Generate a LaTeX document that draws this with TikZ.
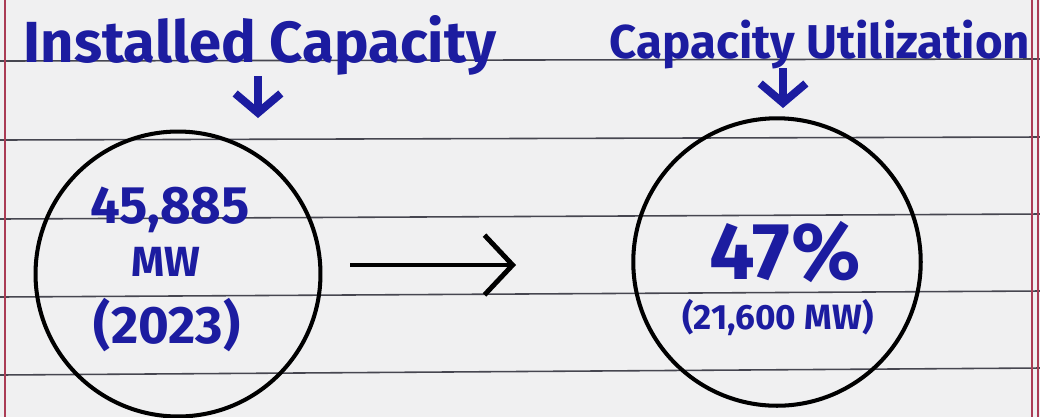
\documentclass[tikz,border=0pt]{standalone}
\usepackage{fontspec}
\setmainfont{Fira Sans}
\usepackage{tikz}
\usetikzlibrary{arrows.meta, positioning, calc}
\definecolor{paper}{RGB}{240,240,241}
\definecolor{ruling}{RGB}{70,70,80}
\definecolor{margin}{RGB}{170,60,85}
\definecolor{ink}{RGB}{28,28,160}

\begin{document}
\begin{tikzpicture}[x=0.02cm, y=-0.02cm,
    heading/.style={text=ink, font=\bfseries\fontsize{33pt}{33pt}\selectfont, inner sep=0pt, anchor=base},
    value/.style={text=ink, font=\bfseries\fontsize{30pt}{30pt}\selectfont, inner sep=0pt},
    bubble/.style={circle, draw=black, line width=2.3pt, minimum size=5.7cm, inner sep=0pt},
    arrow/.style={-{Straight Barb[length=16pt, width=34pt, line width=2.8pt]}, line width=2.8pt},
    downarrow/.style={-{Straight Barb[length=11pt, width=26pt, line width=4.5pt]}, draw=ink, line width=4.5pt}
  ]

    % Paper
    \fill[paper] (0,0) rectangle (1040,417);
    \useasboundingbox (0,0) rectangle (1040,417);

    % Ruled lines
    \draw[ruling, line width=0.9pt] (0,61) -- (1040,59);
    \draw[ruling, line width=0.9pt] (0,140) -- (1040,137);
    \draw[ruling, line width=0.9pt] (0,219) -- (1040,214);
    \draw[ruling, line width=0.9pt] (0,297) -- (1040,291);
    \draw[ruling, line width=0.9pt] (0,375) -- (1040,368);

    % Margins
    \draw[margin, line width=0.8pt] (5,0) -- (5,417);
    \draw[margin, line width=0.8pt] (1032,0) -- (1032,417);
    \draw[margin, line width=0.8pt] (1038,0) -- (1038,417);

    % Headings
    \node[heading] (instcap) at (260,62) {Installed Capacity};
    \node[heading, font=\bfseries\fontsize{27pt}{27pt}\selectfont] (caputil) at (820,58) {Capacity Utilization};

    % Circles
    \node[bubble] (installed) at (178,274) {};
    \node[bubble, minimum size=5.75cm] (utilized) at (777,262) {};

    % Values
    \node[value] (mwtotal) at (170,210) {45,885};
    \node[value, font=\bfseries\fontsize{24pt}{24pt}\selectfont] (mwunit) at (166,262) {MW};
    \node[value] (year) at (167,325) {(2023)};
    \node[value, font=\bfseries\fontsize{46pt}{46pt}\selectfont] (share) at (785,252) {47\%};
    \node[value, font=\bfseries\fontsize{20pt}{20pt}\selectfont] (mwused) at (778,318) {(21,600 MW)};

    % Arrows
    \coordinate (instdown) at (258,76);
    \coordinate (instcirc) at (258,118);
    \coordinate (utildown) at (783,68);
    \coordinate (utilcirc) at (783,108);
    \coordinate (flowstart) at (350,265);
    \coordinate (flowend) at (516,265);
    \draw[downarrow] (instdown) -- (instcirc);
    \draw[downarrow] (utildown) -- (utilcirc);
    \draw[arrow] (flowstart) -- (flowend);

\end{tikzpicture}
\end{document}
